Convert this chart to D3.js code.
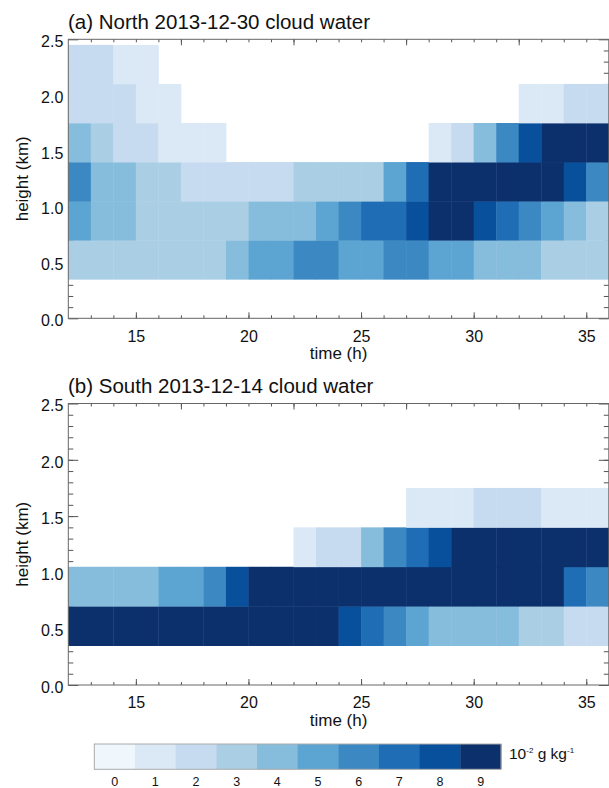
<!DOCTYPE html>
<html lang="en">
<head>
<meta charset="UTF-8">
<script src="https://cdn.jsdelivr.net/npm/d3@7"></script>
<style>
    html,body{margin:0;padding:0;background:#fff;}
    svg text{font-family:"Liberation Sans", Arial, sans-serif;fill:#111;}
    .tick line{stroke:#555;}
</style>
</head>
<body>
<div id="chart"></div>
<script>
// hour (start of each 1 h column)
var times = [12,13,14,15,16,17,18,19,20,21,22,23,24,25,26,27,28,29,30,31,32,33,34,35];
// bottom of each model layer (km), layers are 0.35 km deep
var heights = [0.35, 0.70, 1.05, 1.40, 1.75, 2.10];
var layerDepth = 0.35;

// colour class per cell (0-9), null = no cloud; rows from lowest layer up
var northCloud = [
    [3,3,3,3,3,3,3,4,5,5,6,6,5,5,6,6,5,5,4,4,4,3,3,3],
    [5,4,4,3,3,3,3,3,4,4,4,5,6,7,7,8,9,9,8,7,6,5,4,3],
    [6,4,4,3,3,2,2,2,2,2,3,3,3,3,5,7,9,9,9,9,9,9,8,6],
    [4,3,2,2,1,1,1,null,null,null,null,null,null,null,null,null,1,2,4,6,8,9,9,9],
    [2,2,2,1,1,null,null,null,null,null,null,null,null,null,null,null,null,null,null,null,1,1,2,2],
    [2,2,1,1,null,null,null,null,null,null,null,null,null,null,null,null,null,null,null,null,null,null,null,null]
];
var southCloud = [
    [9,9,9,9,9,9,9,9,9,9,9,9,8,7,6,5,4,4,4,4,3,3,2,2],
    [4,4,4,4,5,5,6,8,9,9,9,9,9,9,9,9,9,9,9,9,9,9,7,6],
    [null,null,null,null,null,null,null,null,null,null,1,2,2,4,6,7,8,9,9,9,9,9,9,9],
    [null,null,null,null,null,null,null,null,null,null,null,null,null,null,null,1,1,1,2,2,2,1,1,1],
    [null,null,null,null,null,null,null,null,null,null,null,null,null,null,null,null,null,null,null,null,null,null,null,null],
    [null,null,null,null,null,null,null,null,null,null,null,null,null,null,null,null,null,null,null,null,null,null,null,null]
];

var levelLabels = ["0","1","2","3","4","5","6","7","8","9"];
var levelColors = ["#eff6fc","#dbe9f6","#c6dbef","#aacfe5","#86bcdc","#5ca4d1","#3b88c2","#1f6db4","#08509b","#0c306c"];

var xMajor = [15,20,25,30,35];
var topMajor = [17,22,27,32];
var yMajor = [0,0.5,1.0,1.5,2.0,2.5];

var width = 609, height = 788;

var svg = d3.select("#chart").append("svg")
    .attr("width", width)
    .attr("height", height);

var x = d3.scaleLinear().domain([12,36]).range([68.3, 608.8]);
var color = d3.scaleOrdinal().domain(levelLabels.map(Number)).range(levelColors);

var panels = [
    {title: "(a) North 2013-12-30 cloud water", data: northCloud, top: 39.3, bottom: 318.3},
    {title: "(b) South 2013-12-14 cloud water", data: southCloud, top: 403.5, bottom: 685}
];

var minorY = d3.range(1,25).map(function(d){ return d/10; });
var minorX = d3.range(13,36);

panels.forEach(function(p){
    var y = d3.scaleLinear().domain([0,2.5]).range([p.bottom, p.top]);
    var g = svg.append("g");

    // ticks (inward) - drawn first so cells sit on top of them
    function noDomain(a){ a.select(".domain").remove(); }

    g.append("g").attr("transform","translate(0,"+p.bottom+")")
        .call(d3.axisBottom(x).tickValues(minorX).tickSize(-3).tickFormat(""))
        .call(noDomain);
    g.append("g").attr("transform","translate(0,"+p.bottom+")")
        .call(d3.axisBottom(x).tickValues(xMajor).tickSize(-6).tickPadding(12).tickFormat(d3.format("d")))
        .call(noDomain)
        .selectAll("text").attr("font-size","16px").attr("fill","#111");

    g.append("g").attr("transform","translate(0,"+p.top+")")
        .call(d3.axisTop(x).tickValues(minorX).tickSize(-3).tickFormat(""))
        .call(noDomain);
    g.append("g").attr("transform","translate(0,"+p.top+")")
        .call(d3.axisTop(x).tickValues(topMajor).tickSize(-6).tickFormat(""))
        .call(noDomain);

    g.append("g").attr("transform","translate("+x(12)+",0)")
        .call(d3.axisLeft(y).tickValues(minorY).tickSize(-5).tickFormat(""))
        .call(noDomain);
    g.append("g").attr("transform","translate("+x(12)+",0)")
        .call(d3.axisLeft(y).tickValues(yMajor).tickSize(-10).tickPadding(5).tickFormat(d3.format(".1f")))
        .call(noDomain)
        .selectAll("text").attr("font-size","16px").attr("fill","#111").attr("dy","0.45em");

    g.append("g").attr("transform","translate("+x(36)+",0)")
        .call(d3.axisRight(y).tickValues(minorY).tickSize(-5).tickFormat(""))
        .call(noDomain);
    g.append("g").attr("transform","translate("+x(36)+",0)")
        .call(d3.axisRight(y).tickValues(yMajor).tickSize(-10).tickFormat(""))
        .call(noDomain);

    // cells
    var cells = [];
    p.data.forEach(function(row, r){
        row.forEach(function(v, i){
            if(v !== null) cells.push({t: times[i], h: heights[r], v: v});
        });
    });
    g.append("g").selectAll("rect")
        .data(cells)
        .enter().append("rect")
        .attr("x", function(d){ return x(d.t); })
        .attr("y", function(d){ return y(d.h + layerDepth); })
        .attr("width", function(d){ return x(d.t+1) - x(d.t) + 0.4; })
        .attr("height", function(d){ return y(d.h) - y(d.h + layerDepth) + 0.4; })
        .attr("fill", function(d){ return color(d.v); });

    // frame
    g.append("rect")
        .attr("x", x(12)).attr("y", p.top)
        .attr("width", x(36)-x(12)).attr("height", p.bottom-p.top)
        .attr("fill","none").attr("stroke","#666").attr("stroke-width",1);

    g.append("text")
        .attr("x", 68).attr("y", p.top - 10.5)
        .attr("font-size","20.5px")
        .text(p.title);

    g.append("text")
        .attr("x", (x(12)+x(36))/2).attr("y", p.bottom + 41)
        .attr("text-anchor","middle")
        .attr("font-size","17px")
        .text("time (h)");

    g.append("text")
        .attr("transform","translate(28,"+((p.top+p.bottom)/2)+") rotate(-90)")
        .attr("text-anchor","middle")
        .attr("font-size","17px")
        .text("height (km)");
});

// colour bar
var lx = d3.scaleBand().domain(levelLabels).range([94.3, 501]);
var legend = svg.append("g");
legend.selectAll("rect")
    .data(levelLabels)
    .enter().append("rect")
    .attr("x", function(d){ return lx(d); })
    .attr("y", 744)
    .attr("width", lx.bandwidth() + 0.4)
    .attr("height", 25.3)
    .attr("fill", function(d,i){ return levelColors[i]; });
legend.append("rect")
    .attr("x", 94.3).attr("y", 744)
    .attr("width", 501-94.3).attr("height", 25.3)
    .attr("fill","none").attr("stroke","#aaa");
legend.selectAll("text.lab")
    .data(levelLabels)
    .enter().append("text")
    .attr("class","lab")
    .attr("x", function(d){ return lx(d) + lx.bandwidth()/2; })
    .attr("y", 786)
    .attr("text-anchor","middle")
    .attr("font-size","12.5px")
    .text(function(d){ return d; });

var unit = legend.append("text").attr("x", 509).attr("y", 759).attr("font-size","15.5px");
unit.append("tspan").text("10");
unit.append("tspan").attr("dy", -6).attr("font-size","8px").text("-2");
unit.append("tspan").attr("dy", 6).text(" g kg");
unit.append("tspan").attr("dy", -6).attr("font-size","8px").text("-1");
</script>
</body>
</html>
